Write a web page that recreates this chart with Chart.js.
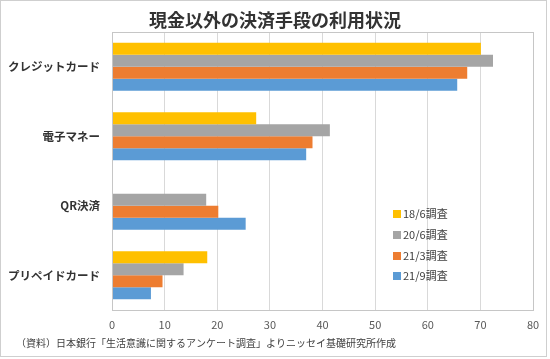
<!DOCTYPE html>
<html><head><meta charset="utf-8">
<script src="https://cdn.jsdelivr.net/npm/chart.js@4/dist/chart.umd.min.js"></script>
<style>html,body{margin:0;padding:0;background:#fff}#wrap{width:550px;height:359px;position:relative}</style>
</head><body><div id="wrap"><canvas id="c" width="550" height="359"></canvas></div>
<script>
const titleText = '現金以外の決済手段の利用状況';
const footnote = '（資料）日本銀行「生活意識に関するアンケート調査」よりニッセイ基礎研究所作成';
const categories = ['クレジットカード', '電子マネー', 'QR決済', 'プリペイドカード'];
const seriesLabels = ['18/6調査', '20/6調査', '21/3調査', '21/9調査'];
const s18_6 = [70.1, 27.4, null, 18.1];
const s20_6 = [72.4, 41.4, 17.9, 13.6];
const s21_3 = [67.5, 38.1, 20.2, 9.6];
const s21_9 = [65.6, 36.9, 25.4, 7.4];
const xTicks = [0, 10, 20, 30, 40, 50, 60, 70, 80];
const colors = ['#FFC000', '#A5A5A5', '#ED7D31', '#5B9BD5'];

const FONT = '"Noto Sans CJK JP", "Noto Sans", sans-serif';
const seriesData = [s18_6, s20_6, s21_3, s21_9];

const decor = {
  id: 'decor',
  beforeDraw(chart) {
    const ctx = chart.ctx;
    ctx.save();
    ctx.fillStyle = '#fff';
    ctx.fillRect(0, 0, chart.width, chart.height);
    ctx.restore();
  },
  afterDraw(chart) {
    const ctx = chart.ctx;
    const a = chart.chartArea;
    ctx.save();
    // plot box
    ctx.strokeStyle = '#c6c6c6';
    ctx.lineWidth = 1;
    ctx.strokeRect(Math.round(a.left) + 0.5, Math.round(a.top) + 0.5, Math.round(a.right - a.left), Math.round(a.bottom - a.top));
    // outer frame
    ctx.strokeStyle = '#cfcfcf';
    ctx.strokeRect(0.5, 0.5, 546, 356);
    // title
    ctx.fillStyle = '#333333';
    ctx.font = 'bold 18px ' + FONT;
    ctx.textAlign = 'center';
    ctx.textBaseline = 'middle';
    ctx.fillText(titleText, 275, 20);
    // footnote
    ctx.fillStyle = '#404040';
    ctx.font = '10px ' + FONT;
    ctx.textAlign = 'left';
    ctx.fillText(footnote, 16, 343);
    // legend inside plot
    ctx.font = '11px ' + FONT;
    const ys = [214, 235, 256, 276];
    chart.data.datasets.forEach((ds, i) => {
      ctx.fillStyle = ds.backgroundColor;
      ctx.fillRect(393, ys[i] - 4, 8, 8);
      ctx.fillStyle = '#404040';
      ctx.textBaseline = 'middle';
      ctx.fillText(ds.label, 403, ys[i]);
    });
    ctx.restore();
  }
};

new Chart(document.getElementById('c'), {
  type: 'bar',
  data: {
    labels: categories,
    datasets: seriesLabels.map((l, i) => ({
      label: l,
      data: seriesData[i],
      backgroundColor: colors[i],
      borderWidth: 0,
      categoryPercentage: 0.69,
      barPercentage: 1.0
    }))
  },
  options: {
    indexAxis: 'y',
    responsive: false,
    animation: false,
    devicePixelRatio: 1,
    layout: { padding: { top: 32, right: 17, bottom: 21, left: 0 } },
    plugins: { legend: { display: false }, title: { display: false }, tooltip: { enabled: false } },
    scales: {
      x: {
        min: 0, max: 80,
        afterBuildTicks(scale) { scale.ticks = xTicks.map(v => ({ value: v })); },
        afterFit(scale) { scale.height = 28; },
        grid: { color: '#d9d9d9', drawTicks: false },
        border: { display: false },
        ticks: { padding: 8, color: '#595959', font: { family: FONT, size: 11 } }
      },
      y: {
        afterFit(scale) { scale.width = 112; },
        grid: { display: false, drawTicks: false },
        border: { display: false },
        ticks: { padding: 12, color: '#333333', font: { family: FONT, size: 11.5, weight: 'bold' } }
      }
    }
  },
  plugins: [decor]
});
</script></body></html>
